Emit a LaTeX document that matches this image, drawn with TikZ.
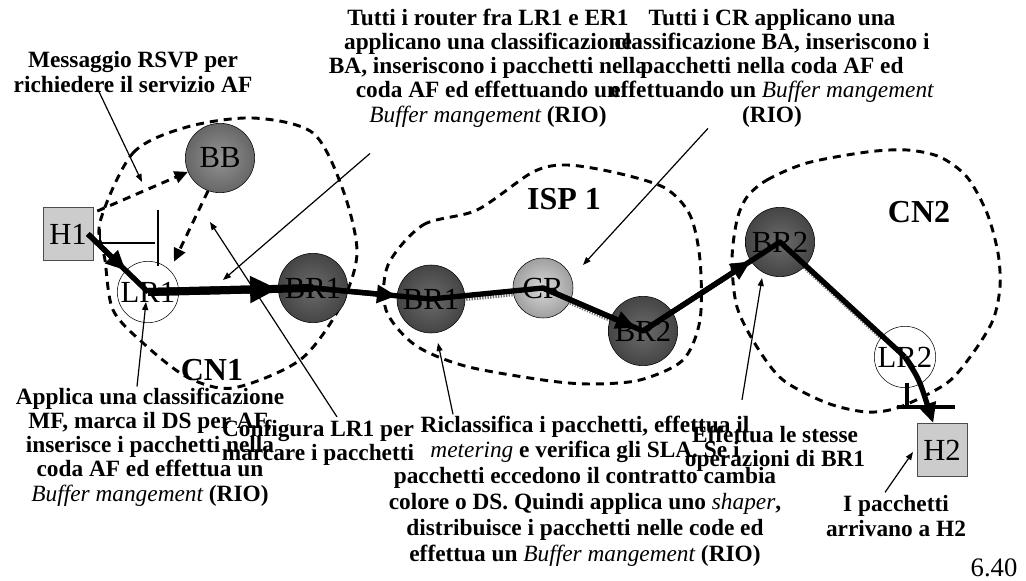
\documentclass[tikz,border=0pt]{standalone}
\usepackage{fontspec}
\setmainfont{Liberation Serif}
\usetikzlibrary{arrows.meta,calc,backgrounds}
\pgfdeclareradialshading{brball}{\pgfpoint{0bp}{0bp}}{color(0bp)=(black!58); color(50bp)=(black!88)}
\pgfdeclareradialshading{bbball}{\pgfpoint{0bp}{0bp}}{color(0bp)=(black!42); color(50bp)=(black!78)}
\pgfdeclareradialshading{crball}{\pgfpoint{0bp}{0bp}}{color(0bp)=(black!15); color(50bp)=(black!60)}
\newcommand{\term}[1]{{\mdseries\itshape #1}}

\begin{document}
\begin{tikzpicture}[x=0.75pt,y=-0.75pt,
  every node/.style={inner sep=0pt},
  host/.style={draw=black!70,fill=black!20,minimum width=37.5pt,minimum height=40pt,font=\fontsize{23}{24}\selectfont},
  router/.style={circle,draw,minimum size=52pt,font=\fontsize{23}{24}\selectfont},
  lrouter/.style={router,fill=white,minimum size=46pt},
  note/.style={align=center,font=\bfseries\fontsize{17.5}{18.2}\selectfont},
  area/.style={font=\bfseries\fontsize{24}{26}\selectfont},
  region/.style={line width=2.2pt,dash pattern=on 6pt off 4.5pt},
  flow/.style={line width=4pt,line join=round},
  headtip/.style={-{Triangle[length=15pt,width=13pt]}},
  sig/.style={line width=2.2pt,dash pattern=on 6pt off 4.5pt,-{Triangle[length=10pt,width=9pt]}},
  leader/.style={line width=0.9pt,-{Triangle[length=6pt,width=4.5pt]}},
  dropline/.style={line width=3pt,black!55,dash pattern=on 1pt off 1pt,transform canvas={shift={(0.5pt,-2.5pt)}}}]

  \useasboundingbox (0,0) rectangle (1026,581);

  \node[host] (h1) at (68,234) {H1};
  \node[host] (h2) at (942,450) {H2};
  \node[router,shading=bbball] (bb) at (220,158) {BB};
  \node[lrouter] (lr1) at (148,292) {LR1};
  \node[router,shading=brball] (br1a) at (313,288) {BR1};
  \node[router,shading=brball,minimum size=51pt] (br1b) at (431,299) {BR1};
  \node[router,shading=crball,minimum size=45pt] (cr) at (543,288) {CR};
  \node[router,shading=brball] (br2a) at (643,331) {BR2};
  \node[router,shading=brball] (br2b) at (780,242) {BR2};
  \node[lrouter] (lr2) at (905,357) {LR2};

  \begin{scope}[on background layer]
    \draw[region] plot[smooth cycle] coordinates {(100,222) (133,153) (187,127) (253,118) (313,133) (343,190)
      (357,253) (340,307) (300,360) (233,388) (187,377) (143,343) (113,310) (105,260)};
    \draw[region] plot[smooth cycle] coordinates {(388,265) (423,225) (477,210) (533,172) (567,165) (617,173)
      (665,188) (690,215) (700,260) (700,320) (683,360) (640,380) (590,384) (543,380) (465,366) (415,345) (386,310)};
    \draw[region] plot[smooth cycle] coordinates {(747,197) (767,180) (807,163) (867,152) (907,150) (940,157)
      (967,177) (987,213) (998,253) (1000,287) (993,320) (973,353) (947,383) (900,407) (867,412) (827,403)
      (783,380) (757,347) (737,307) (732,260) (737,220)};
    \draw[dropline] (br1b.center) -- (cr.center) -- (br2a.center);
    \draw[dropline] (br2b.center) -- (lr2.center);
  \end{scope}

  \draw[flow] ([xshift=-4pt]h1.east) -- (lr1.center);
  \draw[flow,line width=6pt] (lr1.center) -- (br1a.center);
  \draw[flow] (br1a.center) -- (br1b.center) -- (cr.center) -- (br2a.center) -- (br2b.center) -- (lr2.center);
  \draw[flow,headtip] (lr2.center) .. controls +(14,22) .. (h2);
  \draw[flow,headtip] ([xshift=-4pt]h1.east) -- (lr1);
  \draw[flow,line width=6pt,-{Triangle[length=21pt,width=19pt]}] (lr1.center) -- (br1a);
  \draw[flow,headtip] (br1a.center) -- (br1b);
  \draw[flow,headtip,shorten >=6pt] (cr.center) -- (br2a.center);
  \draw[flow,headtip] (br2a.center) -- (br2b);

  \draw[sig] ([xshift=3pt,yshift=-3pt]h1.north east) -- (bb);
  \draw[sig,shorten >=7pt] (bb.250) -- (lr1.45);

  \draw[line width=0.9pt] (100,243) -- (155,243);
  \draw[line width=0.9pt] (158,210) -- (158,266);
  \draw[line width=2.2pt] (100,229) -- (100,243);
  \draw[line width=3pt] (897,407) -- (955,407);
  \draw[line width=3pt] (907,383) -- (907,407);

  \node[area] (cn1) at (212,370) {CN1};
  \node[area] (isp) at (564,199) {ISP 1};
  \node[area] (cn2) at (919,212) {CN2};

  \node[note] (msg) at (133,72) {Messaggio RSVP per\\richiedere il servizio AF};
  \node[note] (rtr) at (488,68) {Tutti i router fra LR1 e ER1\\applicano una classificazione\\BA, inseriscono i pacchetti nella\\coda AF ed effettuando un\\\term{Buffer mangement} (RIO)};
  \node[note] (crt) at (772,68) {Tutti i CR applicano una\\classificazione BA, inseriscono i\\pacchetti nella coda AF ed\\effettuando un \term{Buffer mangement}\\(RIO)};
  \node[note] (apl) at (150,447) {Applica una classificazione\\MF, marca il DS per AF,\\inserisce i pacchetti nella\\coda AF ed effettua un\\\term{Buffer mangement} (RIO)};
  \node[note] (cfg) at (318,443) {Configura LR1 per\\marcare i pacchetti};
  \node[note,font=\bfseries\fontsize{17.5}{19.4}\selectfont] (rcl) at (585,491) {Riclassifica i pacchetti, effettua il\\\term{metering} e verifica gli SLA. Se i\\pacchetti eccedono il contratto cambia\\colore o DS. Quindi applica uno \term{shaper},\\distribuisce i pacchetti nelle code ed\\effettua un \term{Buffer mangement} (RIO)};
  \node[note] (eff) at (775,449) {Effettua le stesse\\operazioni di BR1};
  \node[note] (arr) at (896,516) {I pacchetti\\arrivano a H2};
  \node[font=\fontsize{20}{22}\selectfont] (pg) at (994,568) {6.40};

  \coordinate (t1) at (142,182);
  \coordinate (t2) at (223,280);
  \coordinate (t3) at (583,265);
  \coordinate (t4) at (146,302);
  \coordinate (t5) at (210,222);
  \coordinate (t6) at (438,343);
  \coordinate (t7) at (762,278);
  \coordinate (t8) at (913,452);
  \draw[leader] ($(msg.south)+(-35,-3)$) -- (t1);
  \draw[leader] ($(rtr.south)+(-118,26)$) -- (t2);
  \draw[leader] ($(crt.south)+(-64,1)$) -- (t3);
  \draw[leader] ($(apl.north)+(-13,-1)$) -- (t4);
  \draw[leader] ($(cfg.north)+(19,-3)$) -- (t5);
  \draw[leader] ($(rcl.north)+(-132,-1)$) -- (t6);
  \draw[leader] ($(eff.north)+(-33,-26)$) -- (t7);
  \draw[leader] ($(arr.north)+(-11,-3)$) -- (t8);
\end{tikzpicture}
\end{document}
